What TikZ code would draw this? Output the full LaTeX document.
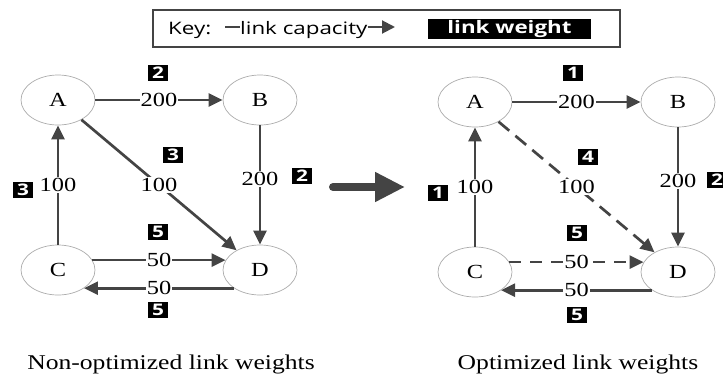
\documentclass[tikz,border=0pt]{standalone}
\usepackage{fontspec}
\setmainfont{Liberation Serif}[FakeStretch=1.22]
\newfontfamily\keyfont{Open Sans}[FakeStretch=1.3]
\usetikzlibrary{arrows.meta,shapes.geometric}
\definecolor{linkgray}{HTML}{444444}
\tikzset{
    router/.style={ellipse, draw=gray!65, line width=0.7pt, fill=white, minimum width=74pt, minimum height=50pt, font=\fontsize{20}{22}\selectfont},
    link/.style={draw=linkgray, line width=2.7pt, -{Triangle[length=14pt,width=13pt]}},
    capty/.style={fill=white, inner sep=1pt, font=\fontsize{20}{22}\selectfont},
    wgt/.style={fill=black, text=white, inner sep=0pt, minimum width=20pt, minimum height=16pt, font=\keyfont\bfseries\fontsize{16}{16}\selectfont},
    title/.style={anchor=base, font=\fontsize{21}{24}\selectfont}
}
\begin{document}
\begin{tikzpicture}[x=1pt,y=-1pt]
        \useasboundingbox (0,0) rectangle (723,378);

        \draw[linkgray, line width=1.6pt] (153,10) rectangle (620,47);
        \node[anchor=base west, inner sep=0pt, font=\keyfont\fontsize{17.2}{20}\selectfont] (key) at (168,34) {Key:};
        \node[anchor=base west, inner sep=0pt, font=\keyfont\fontsize{17.2}{20}\selectfont] (capt) at (240,34) {link capacity};
        \coordinate (dashL) at (225,27);
        \coordinate (arrR) at (395,27);
        \draw[linkgray, line width=2pt] (dashL) -- (capt.west |- dashL);
        \draw[linkgray, line width=2pt, -{Triangle[length=13pt,width=13pt]}] (capt.east |- arrR) -- (arrR);
        \node[fill=black, text=white, minimum width=163pt, minimum height=20pt, inner sep=0pt, font=\keyfont\bfseries\fontsize{17.2}{20}\selectfont] (wkey) at (509.5,29) {link weight};

        \node[router] (A1) at (58,100) {A};
        \node[router] (B1) at (260,100) {B};
        \node[router] (C1) at (58,270) {C};
        \node[router] (D1) at (260,270) {D};

        \draw[link] (A1) -- node[capty] (l1ab) {200} (B1);
        \draw[link] (A1) -- node[capty] (l1ad) {100} (D1);
        \draw[link] (B1) -- node[capty, pos=0.45] (l1bd) {200} (D1);
        \draw[link] (C1) -- node[capty] (l1ca) {100} (A1);
        \draw[link] (C1.16) -- node[capty] (l1cd) {50} (D1.164);
        \draw[link] (D1.215) -- node[capty] (l1dc) {50} (C1.325);

        \node[wgt] (w1ab) at (158,73) {2};
        \node[wgt] (w1ad) at (173,155) {3};
        \node[wgt] (w1bd) at (302,176) {2};
        \node[wgt] (w1ca) at (23,190) {3};
        \node[wgt] (w1cd) at (158,232) {5};
        \node[wgt] (w1dc) at (158,310) {5};

        \coordinate (bigL) at (333,187);
        \coordinate (bigR) at (405,187);
        \draw[linkgray, line width=8pt, line cap=round, -{Triangle[length=30pt,width=28pt]}] (bigL) -- (bigR);

        \node[router] (A2) at (475,102) {A};
        \node[router] (B2) at (678,102) {B};
        \node[router] (C2) at (475,272) {C};
        \node[router] (D2) at (678,272) {D};

        \draw[link] (A2) -- node[capty] (l2ab) {200} (B2);
        \draw[link, dash pattern=on 14pt off 8pt] (A2) -- node[capty] (l2ad) {100} (D2);
        \draw[link] (B2) -- node[capty, pos=0.45] (l2bd) {200} (D2);
        \draw[link] (C2) -- node[capty] (l2ca) {100} (A2);
        \draw[link, dash pattern=on 12pt off 9pt] (C2.16) -- node[capty] (l2cd) {50} (D2.164);
        \draw[link] (D2.215) -- node[capty] (l2dc) {50} (C2.325);

        \node[wgt] (w2ab) at (573,73) {1};
        \node[wgt] (w2ad) at (588,157) {4};
        \node[wgt] (w2bd) at (717,180) {2};
        \node[wgt] (w2ca) at (438,193) {1};
        \node[wgt] (w2cd) at (577,233) {5};
        \node[wgt] (w2dc) at (577,315) {5};

        \node[title] (t1) at (171,369) {Non-optimized link weights};
        \node[title] (t2) at (578,369) {Optimized link weights};
    \end{tikzpicture}
\end{document}
